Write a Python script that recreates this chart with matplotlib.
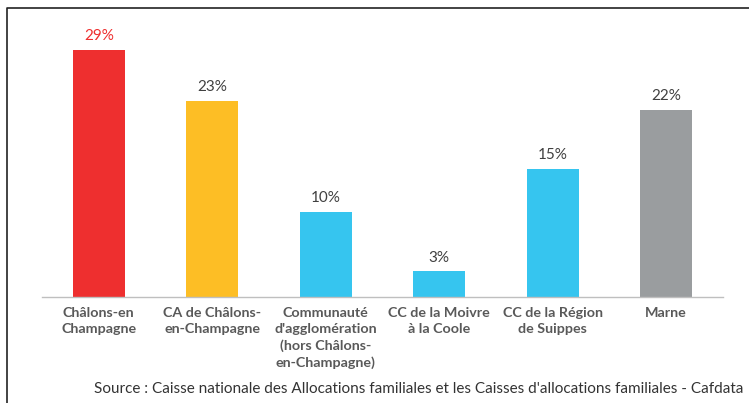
import numpy as np
from matplotlib import pyplot as plt
from matplotlib.lines import Line2D

categories = ["Châlons-en\nChampagne", "CA de Châlons-\nen-Champagne",
              "Communauté\nd'agglomération\n(hors Châlons-\nen-Champagne)",
              "CC de la Moivre\nà la Coole", "CC de la Région\nde Suippes", "Marne"]
values = [29, 23, 10, 3, 15, 22]
colors = ["#EE2F2F", "#FDBE25", "#36C5EF", "#36C5EF", "#36C5EF", "#9A9D9F"]
label_colors = ["#EE2F2F", "#404040", "#404040", "#404040", "#404040", "#404040"]
source = "Source : Caisse nationale des Allocations familiales et les Caisses d'allocations familiales - Cafdata"

plt.rcParams['font.family'] = ['Lato', 'DejaVu Sans']

fig = plt.figure(figsize=(7.49, 4.03), dpi=100)
ax = fig.add_axes([42/749, 1 - 297/403, 681/749, 277/403])

x = np.arange(len(values))
ax.bar(x, values, width=0.46, color=colors)
for xi, v, c in zip(x, values, label_colors):
    ax.text(xi, v + 0.8, f"{v}%", ha='center', va='bottom', fontsize=11, color=c)

ax.set_xlim(-0.5, len(values) - 0.5)
ax.set_ylim(0, 277/8.52)
ax.set_xticks(x)
ax.set_xticklabels(categories, fontsize=10.3, fontweight='bold', color='#595959', va='top')
for lbl in ax.get_xticklabels():
    lbl.set_linespacing(1.4)
ax.tick_params(axis='x', length=0, pad=7)
ax.set_yticks([])
for s in ['top', 'right', 'left']:
    ax.spines[s].set_visible(False)
ax.spines['bottom'].set_color('#BFBFBF')
ax.spines['bottom'].set_linewidth(1)

fig.text(743/749, 1 - 389/403, source, ha='right', va='center', fontsize=11, color='#333333')

# border lines of the frame
fig.add_artist(Line2D([7/749, 7/749, 1.0], [0.0, 1 - 8/403, 1 - 8/403],
                      transform=fig.transFigure, color='#222222', linewidth=1.2))

fig.savefig("out.png", dpi=100)
